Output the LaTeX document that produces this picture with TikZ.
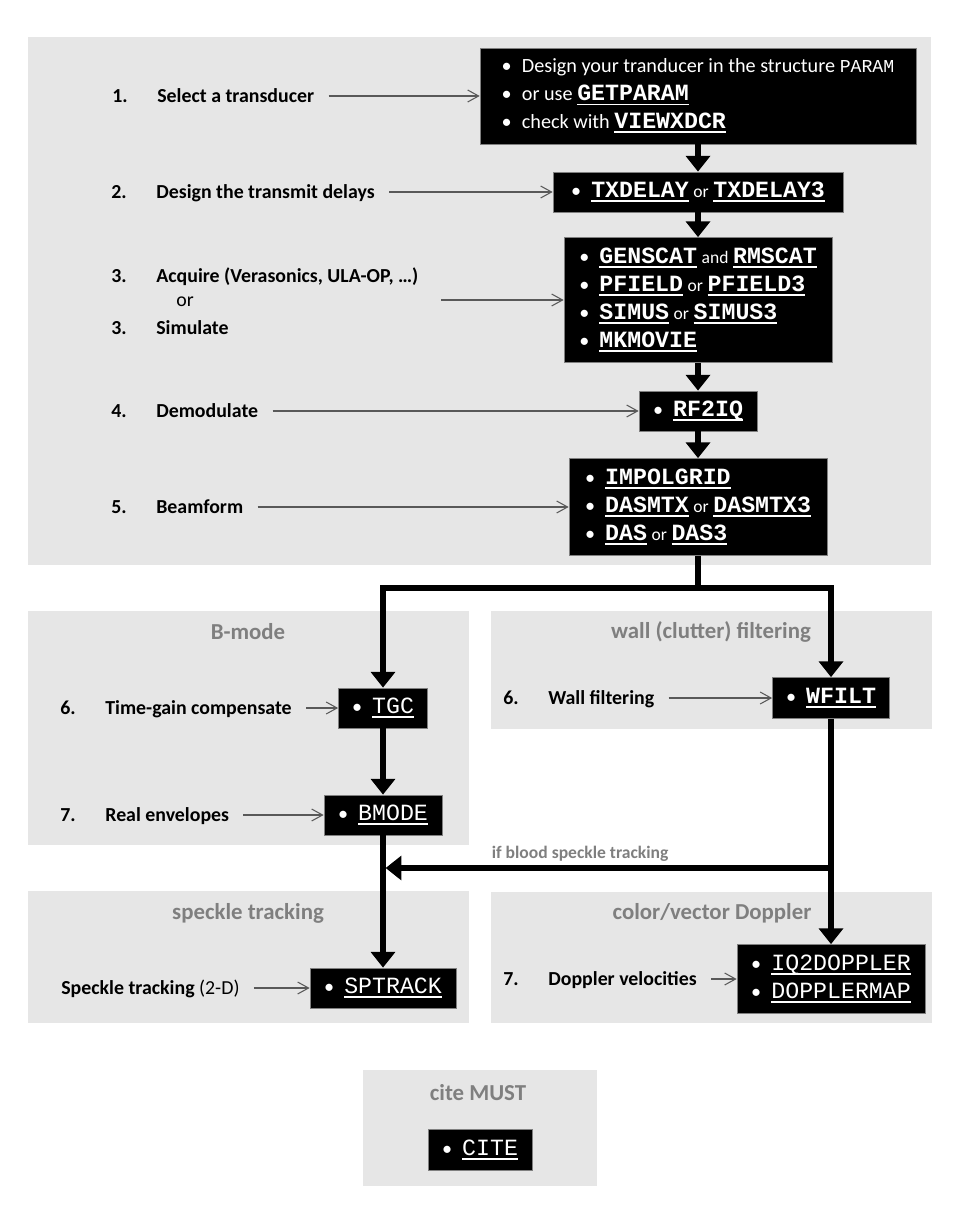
\documentclass[tikz,border=0pt]{standalone}
\usepackage{fontspec}
\setmainfont{Carlito}
\setmonofont{Liberation Mono}[Scale=1.15]
\usetikzlibrary{arrows.meta,positioning}
\definecolor{panel}{HTML}{E6E6E6}
\definecolor{title}{HTML}{7F7F7F}
\definecolor{wire}{HTML}{595959}
% underlined function names (bold / regular)
\newcommand{\fnm}[1]{\setbox0\hbox{\ttfamily\bfseries #1}\rlap{\rule[-2.8pt]{\wd0}{1.1pt}}\box0\relax}
\newcommand{\fnr}[1]{\setbox0\hbox{\ttfamily #1}\rlap{\rule[-2.8pt]{\wd0}{1.1pt}}\box0\relax}
\newcommand{\itm}{\textbullet\hspace{0.5em}}
\newcommand{\sm}[1]{{\fontsize{10}{12}\selectfont #1}}

\begin{document}
\begin{tikzpicture}[x=0.02cm,y=-0.02cm,
  lbl/.style={font=\fontsize{11.3}{13.6}\selectfont\bfseries,anchor=west,inner sep=0pt,text height=7.3pt,text depth=0pt},
  ptitle/.style={font=\fontsize{13}{15}\selectfont\bfseries,text=title,inner sep=0pt},
  fnbox/.style={fill=black,draw=gray,text=white,align=left,font=\fontsize{11.5}{15.9}\selectfont,inner xsep=6pt,inner ysep=3pt},
  feed/.style={draw=wire,line width=0.6pt,-{Straight Barb[length=6.2pt,width=6.8pt]},shorten <=8pt},
  flow/.style={line width=3pt,-{Triangle[length=9pt,width=13.6pt]}}]
  \useasboundingbox (0,0) rectangle (963,1226);
  % panels
  \fill[panel] (28,37) rectangle (931,565);
  \fill[panel] (28,611) rectangle (469,845);
  \fill[panel] (491,611) rectangle (932,729);
  \fill[panel] (28,891) rectangle (469,1023);
  \fill[panel] (491,892) rectangle (932,1023);
  \fill[panel] (363,1070) rectangle (597,1186);
  % panel titles
  \node[ptitle] (tbm) at (248,632) {B-mode};
  \node[ptitle] (twf) at (711,632) {wall (clutter) filtering};
  \node[ptitle] (tsp) at (248,913) {speckle tracking};
  \node[ptitle] (tdp) at (712,913) {color/vector Doppler};
  \node[ptitle] (tct) at (478,1093) {cite MUST};
  % main column
  \node[fnbox,minimum width=8.72cm,minimum height=1.92cm] (b1) at (698,96)
    {\itm Design your tranducer in the structure {\fontsize{9}{12}\selectfont\ttfamily PARAM}\\
     \itm or use \fnm{GETPARAM}\\
     \itm check with \fnm{VIEWXDCR}};
  \node[fnbox,minimum width=5.8cm,minimum height=0.8cm] (b2) at (698,192)
    {\itm \fnm{TXDELAY} \sm{or} \fnm{TXDELAY3}};
  \node[fnbox,minimum width=5.36cm,minimum height=2.5cm] (b3) at (698,300)
    {\itm \fnm{GENSCAT} \sm{and} \fnm{RMSCAT}\\
     \itm \fnm{PFIELD} \sm{or} \fnm{PFIELD3}\\
     \itm \fnm{SIMUS} \sm{or} \fnm{SIMUS3}\\
     \itm \fnm{MKMOVIE}};
  \node[fnbox,minimum width=2.36cm,minimum height=0.8cm] (b4) at (698,411)
    {\itm \fnm{RF2IQ}};
  \node[fnbox,minimum width=5.16cm,minimum height=1.94cm] (b5) at (698,507)
    {\itm \fnm{IMPOLGRID}\\
     \itm \fnm{DASMTX} \sm{or} \fnm{DASMTX3}\\
     \itm \fnm{DAS} \sm{or} \fnm{DAS3}};
  % branches
  \node[fnbox,minimum width=1.78cm,minimum height=0.8cm] (tgc) at (383,708) {\itm \fnr{TGC}};
  \node[fnbox,minimum width=2.36cm,minimum height=0.8cm] (bm) at (383,815) {\itm \fnr{BMODE}};
  \node[fnbox,minimum width=2.34cm,minimum height=0.82cm] (wf) at (831,698) {\itm \fnm{WFILT}};
  \node[fnbox,minimum width=2.92cm,minimum height=0.8cm] (sp) at (383,988) {\itm \fnr{SPTRACK}};
  \node[fnbox,minimum width=3.76cm,minimum height=1.38cm] (dp) at (831,979)
    {\itm \fnr{IQ2DOPPLER}\\ \itm \fnr{DOPPLERMAP}};
  \node[fnbox,minimum width=2.08cm,minimum height=0.82cm] (ct) at (480,1150) {\itm \fnr{CITE}};
  % step labels
  \node[lbl] (n1) at (112,96) {1.};
  \node[lbl] (l1) at (157,96) {Select a transducer};
  \node[lbl] (n2) at (111,192) {2.};
  \node[lbl] (l2) at (156,192) {Design the transmit delays};
  \node[lbl] (n3) at (111,276) {3.};
  \node[lbl] (l3) at (156,276) {Acquire (Verasonics, ULA-OP, …)};
  \node[lbl,font=\fontsize{11.3}{13.6}\selectfont] (l3or) at (176,300) {or};
  \node[lbl] (n3s) at (111,328) {3.};
  \node[lbl] (l3s) at (156,328) {Simulate};
  \node[lbl] (n4) at (111,411) {4.};
  \node[lbl] (l4) at (156,411) {Demodulate};
  \node[lbl] (n5) at (111,507) {5.};
  \node[lbl] (l5) at (156,507) {Beamform};
  \node[lbl] (n6) at (60,708) {6.};
  \node[lbl] (l6) at (105,708) {Time-gain compensate};
  \node[lbl] (n7) at (60,815) {7.};
  \node[lbl] (l7) at (105,815) {Real envelopes};
  \node[lbl] (n6w) at (503,698) {6.};
  \node[lbl] (l6w) at (548,698) {Wall filtering};
  \node[lbl] (n7d) at (503,979) {7.};
  \node[lbl] (l7d) at (548,979) {Doppler velocities};
  \node[lbl] (lsp) at (61,988) {Speckle tracking {\mdseries(2-D)}};
  \coordinate (a3) at (427,300);
  % thin feeds
  \draw[feed] (l1.east) -- (l1.east -| b1.west);
  \draw[feed] (l2.east) -- (l2.east -| b2.west);
  \draw[feed] (a3) -- (a3 -| b3.west);
  \draw[feed] (l4.east) -- (l4.east -| b4.west);
  \draw[feed] (l5.east) -- (l5.east -| b5.west);
  \draw[feed] (l6.east) -- (l6.east -| tgc.west);
  \draw[feed] (l7.east) -- (l7.east -| bm.west);
  \draw[feed] (l6w.east) -- (l6w.east -| wf.west);
  \draw[feed] (l7d.east) -- (l7d.east -| dp.west);
  \draw[feed] (lsp.east) -- (lsp.east -| sp.west);
  % thick flow
  \draw[flow] (b1) -- (b2);
  \draw[flow] (b2) -- (b3);
  \draw[flow] (b3) -- (b4);
  \draw[flow] (b4) -- (b5);
  \coordinate (split) at (698,588);
  \draw[flow] (b5.south) -- (split) -| (tgc.north);
  \draw[flow] (split) -| (wf.north);
  \draw[flow] (tgc) -- (bm);
  \draw[flow] (bm) -- (sp);
  \draw[flow] (wf) -- (dp);
  \coordinate (blood) at (831,868);
  \draw[flow,shorten >=1.5pt] (blood) -- node[pos=0.56,above=4pt,inner sep=0pt,text depth=0pt,font=\fontsize{10}{12}\selectfont\bfseries,text=title] (lbl) {if blood speckle tracking} (blood -| sp.north);
\end{tikzpicture}
\end{document}
